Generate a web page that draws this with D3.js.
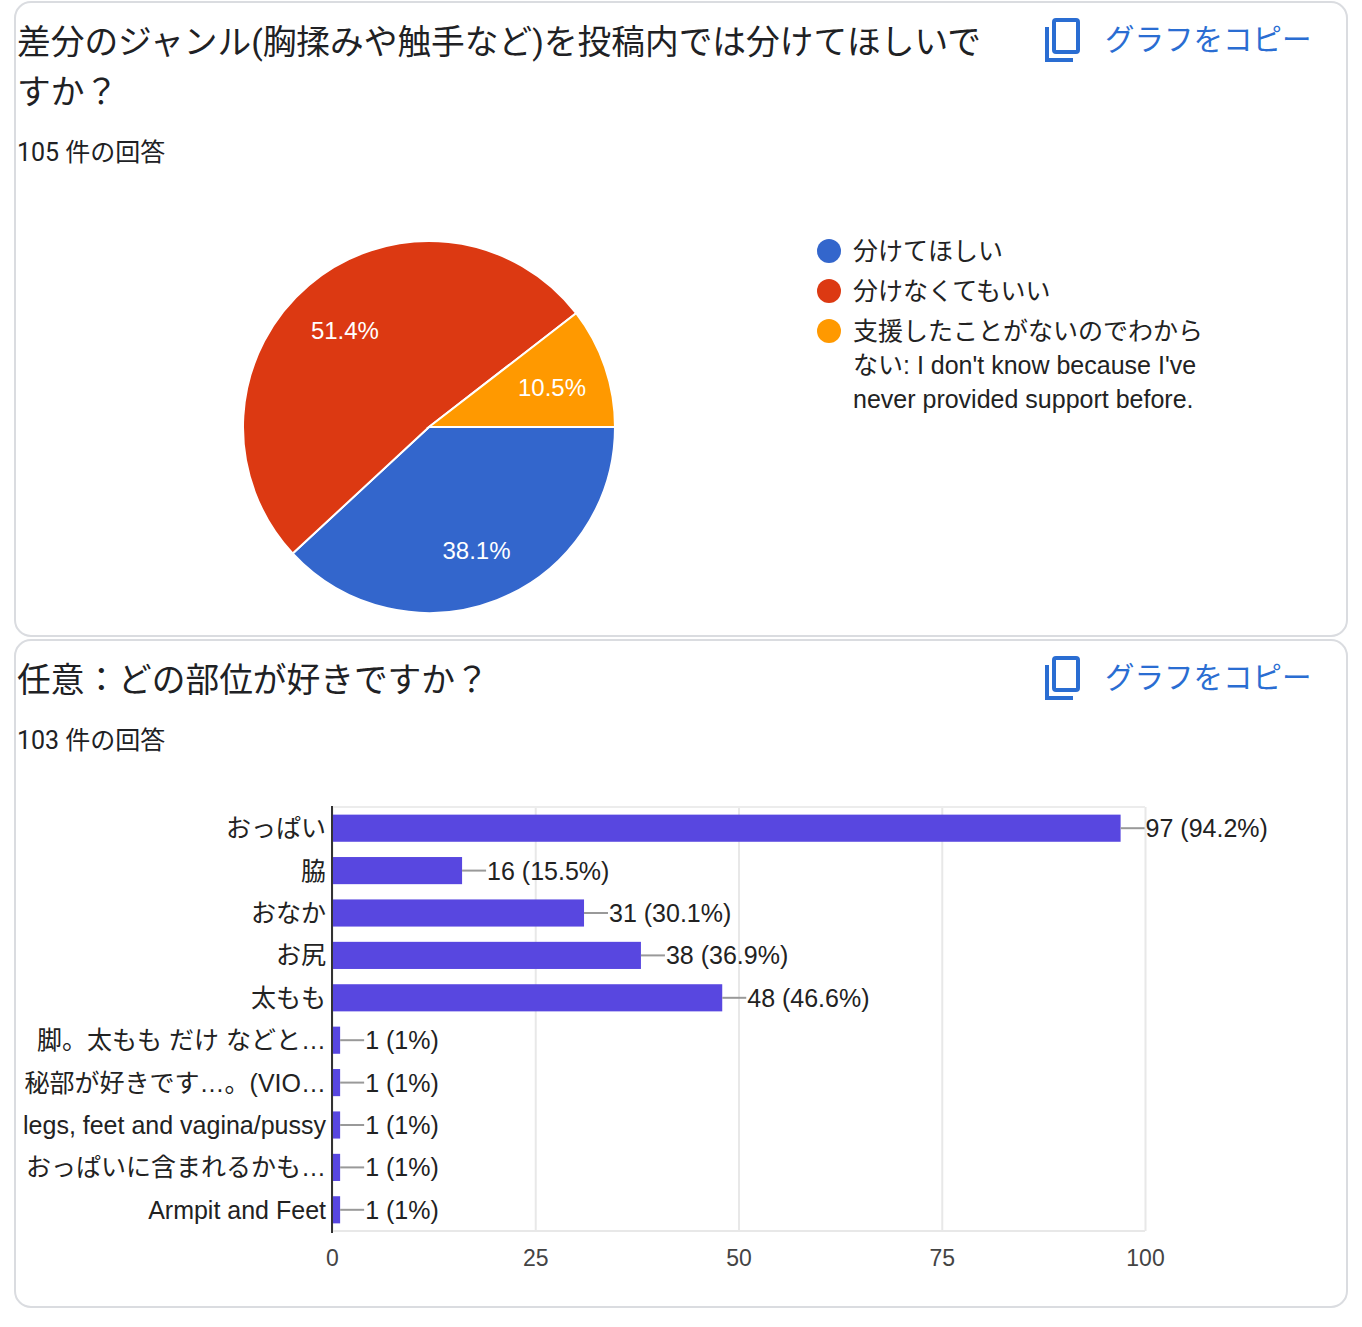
<!DOCTYPE html>
<html>
<head>
<meta charset="utf-8">
<script src="https://cdn.jsdelivr.net/npm/d3@7"></script>
<style>
  body { margin: 0; background: #fff; }
  svg { display: block; font-family: Roboto, "Noto Sans CJK JP", sans-serif; }
  .chart-text { font-family: "Liberation Sans", Arial, "Noto Sans CJK JP", sans-serif; }
</style>
</head>
<body>
<div id="chart"></div>
<script>
// data
const pieLabels = ["分けてほしい", "分けなくてもいい", "支援したことがないのでわからない: I don't know because I've never provided support before."]
const pieValues = [40, 54, 11]
const pieColors = ["#3366cc", "#dc3912", "#ff9900"]
const pieTotal = 105

const barCategories = ["おっぱい", "脇", "おなか", "お尻", "太もも", "脚。太もも だけ などと…", "秘部が好きです…。(VIO…", "legs, feet and vagina/pussy", "おっぱいに含まれるかも…", "Armpit and Feet"]
const barValues = [97, 16, 31, 38, 48, 1, 1, 1, 1, 1]
const barTotal = 103
const barTicks = [0, 25, 50, 75, 100]

// legend text lines as they wrap in the picture
const legendLines = [["分けてほしい"], ["分けなくてもいい"], ["支援したことがないのでわから", "ない: I don't know because I've", "never provided support before."]]

const W = 1362, H = 1327
const svg = d3.select("#chart").append("svg")
  .attr("width", W)
  .attr("height", H)

// cards
const cards = [{y: 2, h: 634}, {y: 640, h: 667}]
svg.selectAll("rect.card").data(cards).enter().append("rect")
  .attr("class", "card")
  .attr("x", 15).attr("y", d => d.y)
  .attr("width", 1332).attr("height", d => d.h)
  .attr("rx", 16)
  .attr("fill", "#fff")
  .attr("stroke", "#dadce0")
  .attr("stroke-width", 2)

function header(g, titleLines, count) {
  titleLines.forEach((t, i) => {
    g.append("text")
      .attr("x", 17).attr("y", 54 + i * 50)
      .attr("font-size", 33.7).attr("fill", "#202124")
      .text(t)
  })
  g.append("text")
    .attr("x", 17).attr("y", 54 + (titleLines.length - 1) * 50 + 57)
    .attr("font-size", 25).attr("fill", "#202124")
    .text(count + " 件の回答")

  // copy button
  const blue = "#2a6dd2"
  g.append("rect")
    .attr("x", 1054).attr("y", 20).attr("width", 24).attr("height", 32)
    .attr("rx", 2).attr("fill", "none").attr("stroke", blue).attr("stroke-width", 4)
  g.append("path")
    .attr("d", "M1047 27 V60 H1073")
    .attr("fill", "none").attr("stroke", blue).attr("stroke-width", 4)
  g.append("text")
    .attr("x", 1105).attr("y", 50)
    .attr("font-size", 29.5).attr("fill", blue)
    .text("グラフをコピー")
}

// ---- pie card
const g1 = svg.append("g")
header(g1, ["差分のジャンル(胸揉みや触手など)を投稿内では分けてほしいで", "すか？"], pieTotal)

const cx = 429, cy = 427, r = 186
const pie = d3.pie().sort(null)
  .startAngle(Math.PI / 2)
  .endAngle(Math.PI / 2 + 2 * Math.PI)
const arcs = pie(pieValues)
const arc = d3.arc().innerRadius(0).outerRadius(r)
const labelArc = d3.arc().innerRadius(130).outerRadius(130)

const pieG = g1.append("g").attr("transform", `translate(${cx},${cy})`)
pieG.selectAll("path").data(arcs).enter().append("path")
  .attr("d", arc)
  .attr("fill", (d, i) => pieColors[i])
  .attr("stroke", "#fff")
  .attr("stroke-width", 2)

pieG.selectAll("text").data(arcs).enter().append("text")
  .attr("class", "chart-text")
  .attr("transform", d => `translate(${labelArc.centroid(d)})`)
  .attr("text-anchor", "middle")
  .attr("dy", "0.45em")
  .attr("font-size", 24)
  .attr("fill", "#fff")
  .text(d => (d.value / pieTotal * 100).toFixed(1) + "%")

// legend
const legend = g1.append("g")
legendLines.forEach((lines, i) => {
  const y = 251 + i * 40
  legend.append("circle")
    .attr("cx", 829).attr("cy", y).attr("r", 12)
    .attr("fill", pieColors[i])
  lines.forEach((t, j) => {
    legend.append("text")
      .attr("class", "chart-text")
      .attr("x", 853).attr("y", y + j * 34)
      .attr("dy", "0.36em")
      .attr("font-size", 25).attr("fill", "#222")
      .text(t)
  })
})

// ---- bar card
const g2 = svg.append("g").attr("transform", "translate(0,638)")
header(g2, ["任意：どの部位が好きですか？"], barTotal)

const x = d3.scaleLinear().domain([0, 100]).range([332, 1145])
const y = d3.scaleBand().domain(barCategories)
  .range([807, 1231])
  .paddingInner(0.36)
  .paddingOuter(0.18)

// gridlines
svg.append("g")
  .attr("transform", "translate(0,1231)")
  .call(d3.axisBottom(x).tickValues(barTicks).tickSize(-(1231 - 807)).tickFormat(""))
  .call(g => g.select(".domain").remove())
  .call(g => g.selectAll("line").attr("stroke", "#e8e8e8").attr("stroke-width", 2))
svg.append("line")
  .attr("x1", 332).attr("x2", 1145).attr("y1", 807).attr("y2", 807)
  .attr("stroke", "#ececec").attr("stroke-width", 2)
svg.append("line")
  .attr("x1", 332).attr("x2", 1145).attr("y1", 1231).attr("y2", 1231)
  .attr("stroke", "#e8e8e8").attr("stroke-width", 2)

// tick labels
svg.append("g")
  .attr("transform", "translate(0,1231)")
  .call(d3.axisBottom(x).tickValues(barTicks).tickSize(0).tickPadding(19))
  .call(g => g.select(".domain").remove())
  .call(g => g.selectAll("text")
    .attr("font-size", 23)
    .attr("font-family", "'Liberation Sans', Arial, sans-serif")
    .attr("fill", "#444"))

const bars = svg.append("g")
bars.selectAll("rect").data(barValues).enter().append("rect")
  .attr("x", x(0))
  .attr("y", (d, i) => y(barCategories[i]))
  .attr("width", d => x(d) - x(0))
  .attr("height", y.bandwidth())
  .attr("fill", "#5847e0")

// leader lines and value labels
bars.selectAll("line").data(barValues).enter().append("line")
  .attr("x1", d => x(d))
  .attr("x2", d => x(d) + 24)
  .attr("y1", (d, i) => y(barCategories[i]) + y.bandwidth() / 2)
  .attr("y2", (d, i) => y(barCategories[i]) + y.bandwidth() / 2)
  .attr("stroke", "#999").attr("stroke-width", 2)

bars.selectAll("text.val").data(barValues).enter().append("text")
  .attr("class", "val chart-text")
  .attr("x", d => x(d) + 25)
  .attr("y", (d, i) => y(barCategories[i]) + y.bandwidth() / 2)
  .attr("dy", "0.36em")
  .attr("font-size", 25).attr("fill", "#222")
  .text(d => d + " (" + (+(d / barTotal * 100).toFixed(1)) + "%)")

// category labels
svg.append("g").selectAll("text").data(barCategories).enter().append("text")
  .attr("class", "chart-text")
  .attr("x", 326)
  .attr("y", d => y(d) + y.bandwidth() / 2)
  .attr("dy", "0.36em")
  .attr("text-anchor", "end")
  .attr("font-size", 25).attr("fill", "#222")
  .text(d => d)

// left axis line
svg.append("line")
  .attr("x1", 332).attr("x2", 332).attr("y1", 806).attr("y2", 1233)
  .attr("stroke", "#333").attr("stroke-width", 2)
</script>
</body>
</html>
